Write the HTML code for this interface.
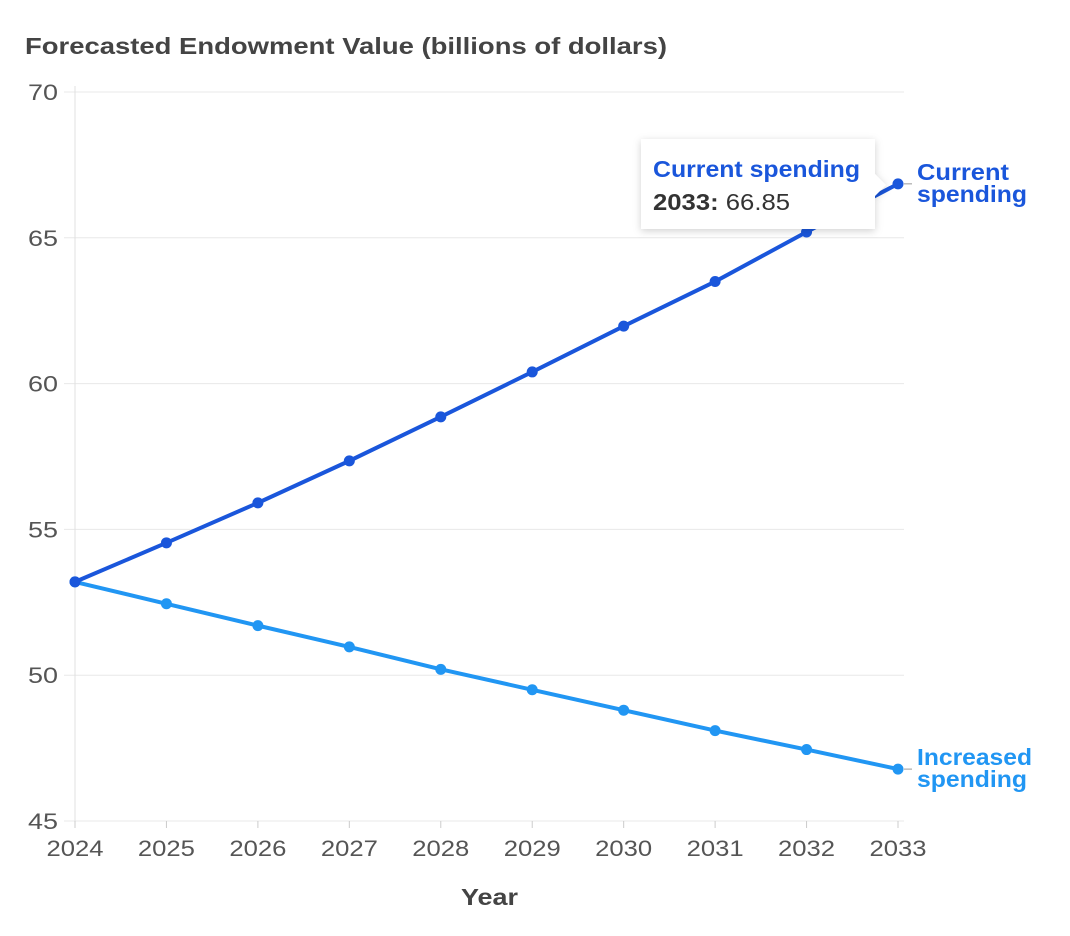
<!DOCTYPE html>
<html><head><meta charset="utf-8"><style>
body{margin:0;background:#fff;font-family:"Liberation Sans",sans-serif;}
svg{display:block}
</style></head><body>
<svg id="chart" width="1070" height="936">
<text x="25" y="54" font-size="23" font-weight="bold" fill="#444" textLength="642" lengthAdjust="spacingAndGlyphs">Forecasted Endowment Value (billions of dollars)</text>
<g id="grid"></g><g id="series"></g>
<text x="461" y="905" font-size="23" font-weight="bold" fill="#444" textLength="57" lengthAdjust="spacingAndGlyphs">Year</text>
<g>
<filter id="sh"><feDropShadow dx="0" dy="2" stdDeviation="4" flood-opacity="0.18"/></filter>
<path d="M641 139 H875 V174 L886 185 L875 196 V229 H641 Z" fill="#fff" filter="url(#sh)"/>
<text x="653" y="177" font-size="23" font-weight="bold" fill="#1a56db" textLength="207" lengthAdjust="spacingAndGlyphs">Current spending</text>
<text x="653" y="210" font-size="23" fill="#333" textLength="137" lengthAdjust="spacingAndGlyphs"><tspan font-weight="bold">2033:</tspan> 66.85</text>
</g>
</svg>
<script>
const years=[2024,2025,2026,2027,2028,2029,2030,2031,2032,2033];
const currentSpending=[53.2,54.54,55.91,57.35,58.86,60.4,61.97,63.5,65.2,66.85];
const increasedSpending=[53.2,52.45,51.7,50.97,50.2,49.5,48.8,48.1,47.45,46.78];
const yTicks=[45,50,55,60,65,70];
const NS="http://www.w3.org/2000/svg";
const x=i=>75+i*(898-75)/9;
const y=v=>821-(v-45)*(821-92)/25;
function el(t,a,p){const e=document.createElementNS(NS,t);for(const k in a)e.setAttribute(k,a[k]);p.appendChild(e);return e;}
const g=document.getElementById('grid'),s=document.getElementById('series');
yTicks.forEach(v=>{
 const l=el('line',{x1:64,x2:904,y1:y(v),y2:y(v),stroke:'#e8e8e8','stroke-width':1},g);
 
 
 const t=el('text',{x:58,y:y(v)+8,'font-size':22,fill:'#555','text-anchor':'end',textLength:30,lengthAdjust:'spacingAndGlyphs'},g);t.textContent=v;
 
 
});
el('line',{x1:75,x2:75,y1:86,y2:821,stroke:'#e0e0e0'},g);
years.forEach((yr,i)=>{
 el('line',{x1:x(i),x2:x(i),y1:821,y2:828,stroke:'#ccc'},g);
 const t=el('text',{x:x(i),y:856,'font-size':22,fill:'#555','text-anchor':'middle',textLength:57,lengthAdjust:'spacingAndGlyphs'},g);t.textContent=yr;
 
 
});
function draw(vals,color,name,labelLines,lens){
 const p=el('polyline',{points:vals.map((v,i)=>x(i)+','+y(v)).join(' '),fill:'none',stroke:color,'stroke-width':4},s);
 
 
 vals.forEach((v,i)=>{const c=el('circle',{cx:x(i),cy:y(v),r:5.5,fill:color},s);
  
  });
 const ly=y(vals[vals.length-1]);
 el('line',{x1:904,x2:912,y1:ly,y2:ly,stroke:'#999'},s);
 labelLines.forEach((l,k)=>{
  const t=el('text',{x:917,y:ly-4+k*22,'font-size':23,'font-weight':'bold',fill:color,textLength:lens[k],lengthAdjust:'spacingAndGlyphs'},s);
  t.textContent=l;
  
  
 });
}
draw(increasedSpending,'#2196f3','increased-spending',['Increased','spending'],[115,110]);
draw(currentSpending,'#1a56db','current-spending',['Current','spending'],[92,110]);
</script>
</body></html>
